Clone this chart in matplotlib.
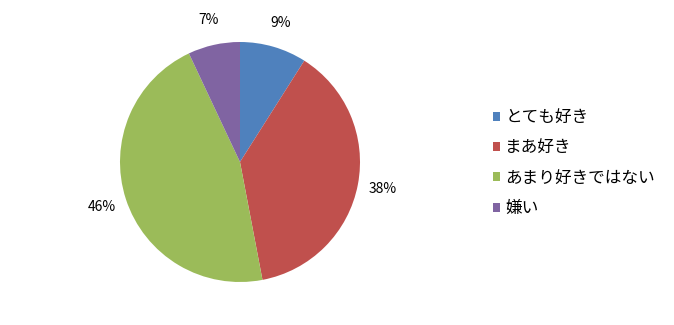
import matplotlib
matplotlib.use("Agg")
import matplotlib.pyplot as plt
from matplotlib.patches import Patch

plt.rcParams['font.family'] = ['Noto Sans CJK JP', 'DejaVu Sans']

# data
labels = ['とても好き', 'まあ好き', 'あまり好きではない', '嫌い']
values = [9, 38, 46, 7]
colors = ['#4F81BD', '#C0504D', '#9BBB59', '#8064A2']


def main():
    W, H = 674, 325
    fig = plt.figure(figsize=(W / 100, H / 100), dpi=100)
    # pie centre ~ (240, 162) px, radius ~ 120 px
    cx, cy, r = 240, 162, 120
    ax = fig.add_axes([(cx - r) / W, (H - cy - r) / H, 2 * r / W, 2 * r / H])

    ax.pie(values, colors=colors, startangle=90, counterclock=False,
           autopct='%d%%', pctdistance=1.21, radius=1,
           textprops={'fontsize': 10, 'color': 'black'},
           wedgeprops={'linewidth': 0})
    ax.set_xlim(-1, 1)
    ax.set_ylim(-1, 1)
    ax.set_aspect('equal')
    ax.axis('off')

    handles = [Patch(facecolor=c, edgecolor='none') for c in colors]
    fig.legend(handles, labels, loc='center left',
               bbox_to_anchor=(486 / W, 1 - 163 / H), frameon=False,
               fontsize=12, handlelength=0.45, handleheight=0.45,
               handletextpad=0.3, labelspacing=0.8, borderaxespad=0)

    fig.savefig('out.png', dpi=100)


if __name__ == "__main__":
    main()
